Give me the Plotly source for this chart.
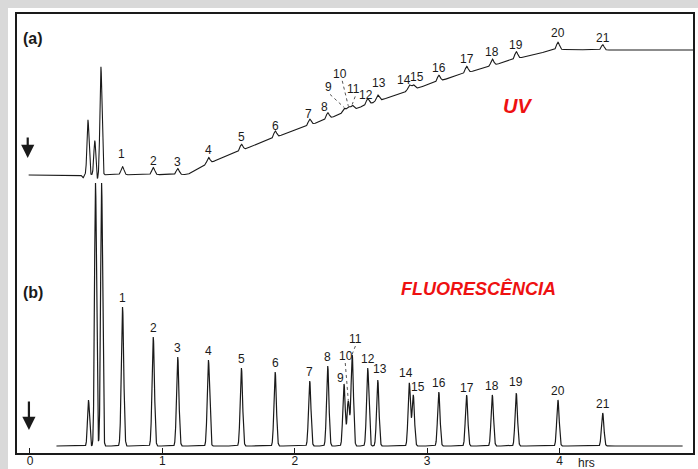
import numpy as np
import plotly.graph_objects as go

# ---------------- data ----------------
peak_ids = [str(i) for i in range(1, 22)]
peak_times = [0.699, 0.931, 1.116, 1.348, 1.597, 1.852, 2.113, 2.249, 2.372, 2.404, 2.434,
              2.551, 2.627, 2.865, 2.895, 3.088, 3.298, 3.492, 3.673, 3.988, 4.326]   # hours
fluor_heights = [139, 109, 89, 86, 78, 74, 65, 80, 62, 45, 91,
                 78, 66, 63, 51, 54, 51, 51, 53, 46, 33]                               # rel. units
uv_heights = [8, 7, 6, 6, 6, 6.5, 6, 6, 4.5, 4.5, 4.5,
              6, 6, 5.5, 4.5, 6, 6.5, 6.5, 7, 7.3, 5.3]                                 # rel. units

# solvent front / unretained peaks
fl_front_times = [0.442, 0.495, 0.541]
fl_front_heights = [46, 263, 263]
uv_front_times = [0.400, 0.438, 0.490, 0.505, 0.536]
uv_front_heights = [-3, 55, 35, -6, 108]

# UV baseline drift (gradient)
uv_base_times = [-0.01, 1.19, 1.337, 1.594, 1.85, 2.243, 2.432, 2.628, 2.855, 3.082,
                 3.293, 3.482, 3.663, 3.95, 3.988, 4.30, 5.01]
uv_base_levels = [0, 0.5, 11, 24.5, 37.5, 56, 65, 74, 84, 93.5,
                  102, 109, 116, 125, 125.5, 125, 125]

x_tick_vals = [0, 1, 2, 3, 4]
x_tick_text = ["0", "1", "2", "3", "4"]

# ---------------- build the traces ----------------
SIG_FL = 0.009
SIG_UV = 0.011
SIG_FRONT = 0.0075


def peaks(t, times, heights, sig):
    out = np.zeros_like(t)
    for tt, hh in zip(times, heights):
        out += hh * np.exp(-0.5 * ((t - tt) / sig) ** 2)
    return out


t_fl = np.arange(0.20, 4.93, 0.0005)
y_fl = peaks(t_fl, peak_times, fluor_heights, SIG_FL) + peaks(t_fl, fl_front_times, fl_front_heights, SIG_FRONT)

t_uv = np.arange(-0.01, 5.01, 0.0005)
base_uv = np.interp(t_uv, uv_base_times, uv_base_levels)
y_uv = base_uv + peaks(t_uv, peak_times, uv_heights, SIG_UV) + peaks(t_uv, uv_front_times, uv_front_heights, SIG_FRONT)

INK = "#1a1a1a"
FONT = "Liberation Sans, Arial, sans-serif"

fig = go.Figure()
fig.add_trace(go.Scatter(x=t_fl, y=y_fl, mode="lines", line=dict(color=INK, width=1.2),
                         hoverinfo="skip", showlegend=False, yaxis="y"))
fig.add_trace(go.Scatter(x=t_uv, y=y_uv, mode="lines", line=dict(color=INK, width=1.1),
                         hoverinfo="skip", showlegend=False, yaxis="y2"))

# ---------------- layout geometry ----------------
W, H = 698, 469
PL, PT, PR, PB = 17, 14, 693, 453            # plot box in window pixels
ML, MT, MR, MB = PL, PT, W - PR, H - PB
pw, ph = PR - PL, PB - PT
X_RANGE = [-0.098, 5.008]
YF_RANGE = [-7, 432]
YU_RANGE = [-278, 161]
hrs_per_px = (X_RANGE[1] - X_RANGE[0]) / pw


def px_to_paper(px, py):
    return (px - PL) / pw, (PB - py) / ph


# label offsets (px): (dx, dy above apex)
uv_shift = {i: (0, 7) for i in range(21)}
uv_shift.update({0: (-1, 13), 5: (0, 5), 6: (-1, 5), 7: (-3, 6), 8: (-16, 21), 9: (-8, 33),
                 10: (1, 16), 11: (-2, 4), 12: (1, 12), 13: (-5, 5), 14: (4, 8), 19: (0, 9)})
fl_shift = {i: (0, 9) for i in range(21)}
fl_shift.update({8: (-4, 6), 9: (-2.5, 45), 10: (3.7, 16), 12: (2, 11), 13: (-3, 10),
                 14: (5, 8), 16: (0, 7), 18: (0, 11)})

annotations = []
shapes = []
uv_base_at_peaks = np.interp(peak_times, uv_base_times, uv_base_levels)
for i, (lab, tt) in enumerate(zip(peak_ids, peak_times)):
    dx, dy = uv_shift[i]
    apex_uv = uv_base_at_peaks[i] + uv_heights[i]
    annotations.append(dict(x=tt, y=apex_uv, xref="x", yref="y2", text=lab, showarrow=False,
                            xanchor="center", yanchor="middle",
                            xshift=dx, yshift=dy, font=dict(size=12, color=INK, family=FONT)))
    dx, dy = fl_shift[i]
    annotations.append(dict(x=tt, y=fluor_heights[i], xref="x", yref="y", text=lab, showarrow=False,
                            xanchor="center", yanchor="middle",
                            xshift=dx, yshift=dy, font=dict(size=12, color=INK, family=FONT)))

# dotted leader lines for crowded labels
for i in (8, 9, 10):
    dx, dy = uv_shift[i]
    apex_uv = uv_base_at_peaks[i] + uv_heights[i]
    shapes.append(dict(type="line", xref="x", yref="y2",
                       x0=peak_times[i] + (dx + 2) * hrs_per_px, y0=apex_uv + dy - 7,
                       x1=peak_times[i], y1=apex_uv + 1,
                       line=dict(color="#555", width=1, dash="dot")))
for i in (9, 10):
    dx, dy = fl_shift[i]
    shapes.append(dict(type="line", xref="x", yref="y",
                       x0=peak_times[i] + (dx - 0.5) * hrs_per_px, y0=fluor_heights[i] + dy - 7,
                       x1=peak_times[i], y1=fluor_heights[i] + 1,
                       line=dict(color="#555", width=1, dash="dot")))

# white page inside the grey surround
wx0, wy0 = px_to_paper(8, 8)
wx1, wy1 = px_to_paper(W + 2, H + 2)
shapes.append(dict(type="rect", xref="paper", yref="paper", layer="below",
                   x0=wx0, x1=wx1, y0=wy1, y1=wy0,
                   fillcolor="white", line=dict(width=0)))

ax_, ay_ = px_to_paper(33, 38.5)
bx_, by_ = px_to_paper(33, 293)
uvx, uvy = px_to_paper(517, 106)
flx, fly = px_to_paper(478.5, 288)
hrs_x, hrs_y = px_to_paper(586, 462.5)

annotations += [
    dict(x=ax_, y=ay_, xref="paper", yref="paper", text="<b>(a)</b>", xanchor="center", yanchor="middle",
         showarrow=False, font=dict(size=16, color=INK, family=FONT)),
    dict(x=bx_, y=by_, xref="paper", yref="paper", text="<b>(b)</b>", xanchor="center", yanchor="middle",
         showarrow=False, font=dict(size=16, color=INK, family=FONT)),
    # injection arrows
    dict(x=-0.017, y=17, xref="x", yref="y2", text="", showarrow=True, ax=0, ay=-22,
         arrowhead=2, arrowsize=1.2, arrowwidth=2.2, arrowcolor=INK),
    dict(x=-0.008, y=16, xref="x", yref="y", text="", showarrow=True, ax=0, ay=-30,
         arrowhead=2, arrowsize=1.2, arrowwidth=2.2, arrowcolor=INK),
    # axis unit
    dict(x=hrs_x, y=hrs_y, xref="paper", yref="paper", xanchor="center", yanchor="middle",
         text="hrs", showarrow=False, font=dict(size=12, color=INK, family=FONT)),
    # detector names
    dict(x=uvx, y=uvy, xref="paper", yref="paper", xanchor="center", yanchor="middle",
         text="<b><i>UV</i></b>", showarrow=False, font=dict(size=20, color="#ee1111", family=FONT)),
    dict(x=flx, y=fly, xref="paper", yref="paper", xanchor="center", yanchor="middle",
         text="<b><i>FLUORESCÊNCIA</i></b>", showarrow=False,
         font=dict(size=18, color="#ee1111", family=FONT)),
]

fig.update_layout(
    width=W, height=H,
    margin=dict(l=ML, r=MR, t=MT, b=MB, pad=0, autoexpand=False),
    paper_bgcolor="#d9d9d9",
    plot_bgcolor="white",
    showlegend=False,
    xaxis=dict(range=X_RANGE, showgrid=False, zeroline=False, showline=True, mirror=True,
               automargin=False,
               linecolor=INK, linewidth=2, ticks="inside", ticklen=5, tickcolor=INK,
               tickvals=x_tick_vals, ticktext=x_tick_text, ticklabelstandoff=-4,
               tickfont=dict(size=12, color=INK, family=FONT)),
    yaxis=dict(range=YF_RANGE, showgrid=False, zeroline=False, showline=True, mirror=True,
               automargin=False,
               linecolor=INK, linewidth=2, showticklabels=False, ticks=""),
    yaxis2=dict(range=YU_RANGE, overlaying="y", visible=False),
    annotations=annotations,
    shapes=shapes,
)

fig.write_html(
    "out.html",
    config={"displayModeBar": False, "staticPlot": True},
    post_script="document.body.style.margin='0';"
                "document.body.style.overflow='hidden';"
                "document.documentElement.style.overflow='hidden';",
)
